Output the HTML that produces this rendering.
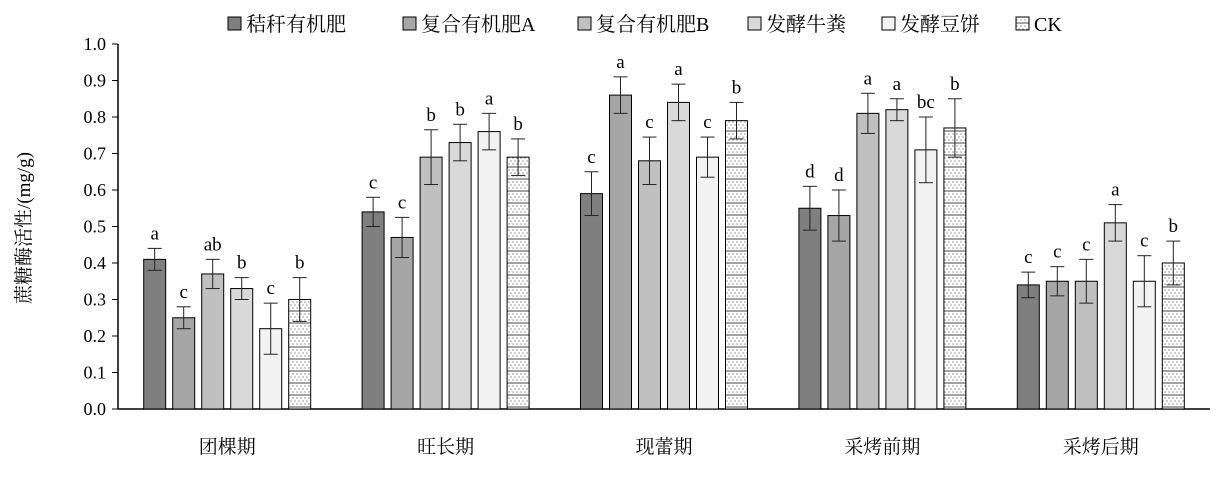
<!DOCTYPE html>
<html><head><meta charset="utf-8"><style>
body{margin:0;background:#fff}
text{font-family:"Liberation Serif","Noto Serif CJK SC",serif;fill:#000}
</style></head><body>
<svg width="1225" height="473" xmlns="http://www.w3.org/2000/svg">
<defs>
<pattern id="ck" width="4" height="12" patternUnits="userSpaceOnUse">
<rect width="4" height="12" fill="#fff"/>
<circle cx="1" cy="2" r="0.6" fill="#555"/><circle cx="3" cy="5" r="0.6" fill="#555"/><circle cx="1" cy="8" r="0.6" fill="#555"/>
<line x1="0" y1="11" x2="4" y2="11" stroke="#444" stroke-width="1"/>
</pattern>
</defs>
<g id="root"></g>
</svg>
<script>
const categories=["团棵期","旺长期","现蕾期","采烤前期","采烤后期"];
const seriesNames=["秸秆有机肥","复合有机肥A","复合有机肥B","发酵牛粪","发酵豆饼","CK"];
const s1=[0.41,0.54,0.59,0.55,0.34];
const s2=[0.25,0.47,0.86,0.53,0.35];
const s3=[0.37,0.69,0.68,0.81,0.35];
const s4=[0.33,0.73,0.84,0.82,0.51];
const s5=[0.22,0.76,0.69,0.71,0.35];
const s6=[0.30,0.69,0.79,0.77,0.40];
const e1=[0.03,0.04,0.06,0.06,0.035];
const e2=[0.03,0.055,0.05,0.07,0.04];
const e3=[0.04,0.075,0.065,0.055,0.06];
const e4=[0.03,0.05,0.05,0.03,0.05];
const e5=[0.07,0.05,0.055,0.09,0.07];
const e6=[0.06,0.05,0.05,0.08,0.06];
const l1=["a","c","c","d","c"];
const l2=["c","c","a","d","c"];
const l3=["ab","b","c","a","c"];
const l4=["b","b","a","a","a"];
const l5=["c","a","c","bc","c"];
const l6=["b","b","b","b","b"];
const yTicks=["0.0","0.1","0.2","0.3","0.4","0.5","0.6","0.7","0.8","0.9","1.0"];
const series=[s1,s2,s3,s4,s5,s6],errs=[e1,e2,e3,e4,e5,e6],labs=[l1,l2,l3,l4,l5,l6];
const fills=["#7f7f7f","#a6a6a6","#c0c0c0","#d9d9d9","#f2f2f2","url(#ck)"];
const NS="http://www.w3.org/2000/svg",root=document.getElementById('root');
const X0=118,X1=1210,Y0=409,Y1=44;
const y=v=>Y0-(v/1.0)*(Y0-Y1);
const gw=(X1-X0)/categories.length;
const bx=(g,i)=>X0+gw*g+gw/2+(i-2.5)*29-11;
function mk(t,a,p){const e=document.createElementNS(NS,t);for(const k in a)e.setAttribute(k,a[k]);(p||root).appendChild(e);return e;}
// axes
let ax=mk('line',{x1:X0,y1:Y1,x2:X0,y2:Y0,stroke:'#000','stroke-width':1.5});


let bx0=mk('line',{x1:X0,y1:Y0,x2:X1,y2:Y0,stroke:'#000','stroke-width':1.5});


yTicks.forEach(t=>{const v=parseFloat(t);
 mk('line',{x1:X0-6,y1:y(v),x2:X0,y2:y(v),stroke:'#000'});
 const tx=mk('text',{x:X0-12,y:y(v)+6,'text-anchor':'end','font-size':18});tx.textContent=t;
 
 
});
const yt=mk('text',{transform:'translate(30,228) rotate(-90)','text-anchor':'middle','font-size':19});
yt.textContent='蔗糖酶活性/(mg/g)';


categories.forEach((c,g)=>{
 const t=mk('text',{x:X0+gw*g+gw/2,y:453,'text-anchor':'middle','font-size':19});t.textContent=c;
 
 
 series.forEach((s,i)=>{
  const v=s[g],e=errs[i][g],x=bx(g,i);
  const r=mk('rect',{x:x,y:y(v),width:22,height:Y0-y(v),fill:fills[i],stroke:'#000','stroke-width':1});
  
  
  const cx=x+11;
  mk('line',{x1:cx,y1:y(v+e),x2:cx,y2:y(v-e),stroke:'#222'});
  mk('line',{x1:cx-7,y1:y(v+e),x2:cx+7,y2:y(v+e),stroke:'#222'});
  mk('line',{x1:cx-7,y1:y(v-e),x2:cx+7,y2:y(v-e),stroke:'#222'});
  const lt=mk('text',{x:cx,y:y(v+e)-9,'text-anchor':'middle','font-size':19});lt.textContent=labs[i][g];
  
  
 });
});
const lx=[228,403,578,748,882,1016];
seriesNames.forEach((n,i)=>{
 const g=mk('g',{});
 
 
 mk('rect',{x:lx[i],y:17,width:13,height:13,fill:fills[i],stroke:'#000'},g);
 const t=mk('text',{x:lx[i]+18,y:31,'font-size':20},g);t.textContent=n;
});
</script>
</body></html>
